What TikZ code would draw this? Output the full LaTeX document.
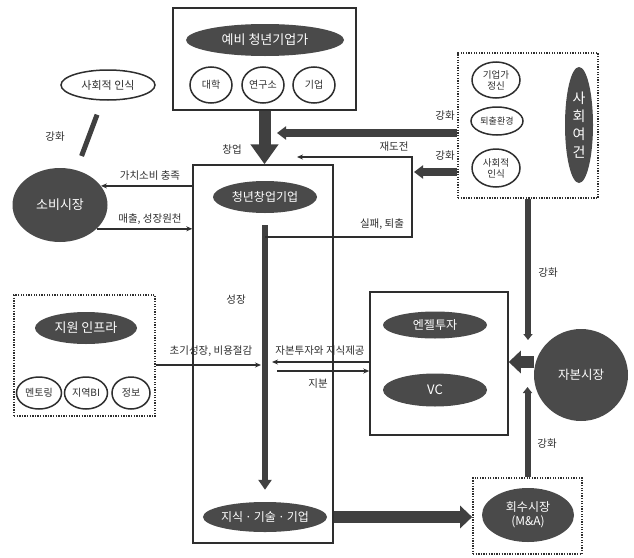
\documentclass[tikz,border=0pt]{standalone}
\usepackage{fontspec}
\setmainfont{Noto Sans CJK KR}
\usetikzlibrary{arrows.meta,calc,shapes.geometric}
\definecolor{seink}{HTML}{2E2E2E}
\definecolor{sedarkfill}{HTML}{4A4A4A}
\definecolor{searrow}{HTML}{404040}
\definecolor{sepage}{HTML}{FFFFFF}
\tikzset{
  sebox/.style={
    draw=seink,
    line width=1.5pt,
    inner sep=0pt
  },
  sedotbox/.style={
    draw=seink,
    line width=1.7pt,
    dash pattern=on 1.3pt off 1.3pt,
    inner sep=0pt
  },
  sedark/.style={
    ellipse,
    fill=sedarkfill,
    text=sepage,
    inner sep=0pt,
    align=center,
    font=\fontsize{12}{13}\selectfont
  },
  sesmall/.style={
    ellipse,
    draw=seink,
    line width=1.5pt,
    fill=sepage,
    text=seink,
    inner sep=0pt,
    align=center,
    font=\fontsize{10}{11}\selectfont
  },
  selabel/.style={
    text=seink,
    inner sep=1pt,
    font=\fontsize{10.5}{11}\selectfont
  },
  seedge/.style={
    -{Stealth[length=6pt,width=5pt]},
    line width=1.5pt,
    color=seink
  },
  sebig/.style={
    -{Triangle[length=20pt,width=27pt]},
    line width=12pt,
    color=searrow
  },
  semid/.style={
    -{Triangle[length=9pt,width=13pt]},
    line width=8pt,
    color=searrow
  },
  sewide/.style={
    -{Triangle[length=12pt,width=22pt]},
    line width=12pt,
    color=searrow
  },
  segrowth/.style={
    -{Triangle[length=10pt,width=13pt]},
    line width=6pt,
    color=searrow
  },
  severt/.style={
    -{Triangle[length=6pt,width=9pt]},
    line width=6pt,
    color=searrow
  },
  sediag/.style={
    line width=5pt,
    color=searrow
  }
}

\begin{document}
\begin{tikzpicture}[x=1pt,y=-1pt]
  \useasboundingbox (0,0) rectangle (634,557);

  % pre-founders
  \node[sebox, minimum width=183pt, minimum height=102pt] (prebox) at (264.5,59) {};
  \node[sedark, minimum width=158pt, minimum height=32pt, font=\fontsize{13}{14}\selectfont] (pre) at (265,40) {예비 청년기업가};
  \node[sesmall, minimum width=42pt, minimum height=36pt] (univ) at (211,85) {대학};
  \node[sesmall, minimum width=42pt, minimum height=36pt] (lab) at (263,85) {연구소};
  \node[sesmall, minimum width=42pt, minimum height=36pt] (firm) at (314,85) {기업};

  % startup
  \node[sebox, minimum width=140pt, minimum height=378pt] (startbox) at (263,354) {};
  \node[sedark, minimum width=104pt, minimum height=32pt] (startup) at (265,197) {청년창업기업};
  \node[sedark, minimum width=104pt, minimum height=30pt] (knowledge) at (265,517) {지식\,·\,기술\,·\,기업};

  % social conditions
  \node[sedotbox, minimum width=140pt, minimum height=145pt] (socbox) at (528,125.5) {};
  \node[sesmall, minimum width=48pt, minimum height=36pt, font=\fontsize{9.5}{11}\selectfont] (spirit) at (496,80) {기업가\\정신};
  \node[sesmall, minimum width=52pt, minimum height=28pt, font=\fontsize{9}{10}\selectfont] (exitenv) at (497,121) {퇴출환경};
  \node[sesmall, minimum width=48pt, minimum height=38pt, font=\fontsize{9.5}{11}\selectfont] (socrec) at (496,168) {사회적\\인식};
  \node[sedark, minimum width=28pt, minimum height=116pt, font=\fontsize{14}{18}\selectfont] (socdark) at (579,125) {사\\회\\여\\건};

  % consumers
  \node[sesmall, minimum width=94pt, minimum height=30pt, font=\fontsize{11}{12}\selectfont] (awareness) at (108,85) {사회적 인식};
  \node[sedark, minimum width=95pt, minimum height=74pt, font=\fontsize{13}{14}\selectfont] (consumer) at (60,205) {소비시장};

  % support infrastructure
  \node[sedotbox, minimum width=141pt, minimum height=121pt] (infrabox) at (84.5,355.5) {};
  \node[sedark, minimum width=102pt, minimum height=32pt, font=\fontsize{13}{14}\selectfont] (infra) at (86,328) {지원 인프라};
  \node[sesmall, minimum width=45pt, minimum height=32pt] (mentor) at (39,393) {멘토링};
  \node[sesmall, minimum width=43pt, minimum height=32pt] (localbi) at (86,393) {지역BI};
  \node[sesmall, minimum width=38pt, minimum height=32pt] (info) at (131,393) {정보};

  % investors
  \node[sebox, minimum width=138pt, minimum height=143pt] (vcbox) at (439,363.5) {};
  \node[sedark, minimum width=104pt, minimum height=27pt] (angel) at (435,325) {엔젤투자};
  \node[sedark, minimum width=104pt, minimum height=33pt, font=\fontsize{13}{14}\selectfont] (vc) at (435,390) {VC};
  \node[sedark, minimum width=94pt, minimum height=92pt, font=\fontsize{12.5}{13}\selectfont] (capital) at (581,375) {자본시장};

  % exit market
  \node[sedotbox, minimum width=109pt, minimum height=76pt] (recbox) at (527.5,516) {};
  \node[sedark, minimum width=92pt, minimum height=54pt, font=\fontsize{12}{14}\selectfont] (recovery) at (528,515) {회수시장\\(M\&A)};

  % thick flows
  \draw[sebig] (prebox.south) -- (prebox.south |- startbox.north);
  \node[selabel] (foundlbl) at (232,150) {창업};
  \draw[semid] (socbox.west |- 0,133) -- (277,133);
  \node[selabel] (reinf1) at (445,116) {강화};
  \draw[semid] (socbox.west |- 0,172) -- (414,172);
  \node[selabel] (reinf2) at (445,156) {강화};
  \draw[segrowth, shorten <=12pt, shorten >=12pt] (startup.south) -- (knowledge.north);
  \node[selabel] (growlbl) at (236,300) {성장};
  \draw[sewide] (startbox.east |- knowledge) -- (recbox.west |- knowledge);
  \draw[sewide] (capital.west |- 0,362) -- (vcbox.east |- 0,362);
  \draw[severt] (socbox.south) -- (socbox.south |- 0,340);
  \node[selabel] (reinf3) at (548,273) {강화};
  \draw[severt] (recbox.north) -- (recbox.north |- 0,387);
  \node[selabel] (reinf4) at (547,444) {강화};
  \draw[sediag, shorten <=15pt, shorten >=15pt] (awareness.250) -- (consumer.65);
  \node[selabel] (reinf5) at (55,137) {강화};

  % failure and retry
  \coordinate (failpt) at (265,237);
  \coordinate (retrypt) at (297,157);
  \draw[seedge] (failpt) -| (412,157) -- (retrypt);
  \node[selabel] (retrylbl) at (394,147) {재도전};
  \node[selabel] (faillbl) at (382,224) {실패, 퇴출};

  % consumer market
  \draw[seedge] (startbox.west |- consumer.25) -- (consumer.25);
  \node[selabel] (valuelbl) at (150,176) {가치소비 충족};
  \draw[seedge] (consumer.-33) -- (startbox.west |- consumer.-33);
  \node[selabel] (saleslbl) at (150,219) {매출, 성장원천};

  % support and investment
  \draw[seedge, shorten >=4pt] (infrabox.east |- 0,365) -- (startup.south |- 0,365);
  \node[selabel] (earlylbl) at (211,351) {초기성장, 비용절감};
  \draw[seedge, shorten >=7pt] (vcbox.west |- 0,362) -- (startup.south |- 0,362);
  \node[selabel] (investlbl) at (320,351) {자본투자와 지식제공};
  \draw[seedge, shorten <=12pt] (startup.south |- 0,371) -- (vcbox.west |- 0,371);
  \node[selabel] (equitylbl) at (318,384) {지분};
\end{tikzpicture}
\end{document}
